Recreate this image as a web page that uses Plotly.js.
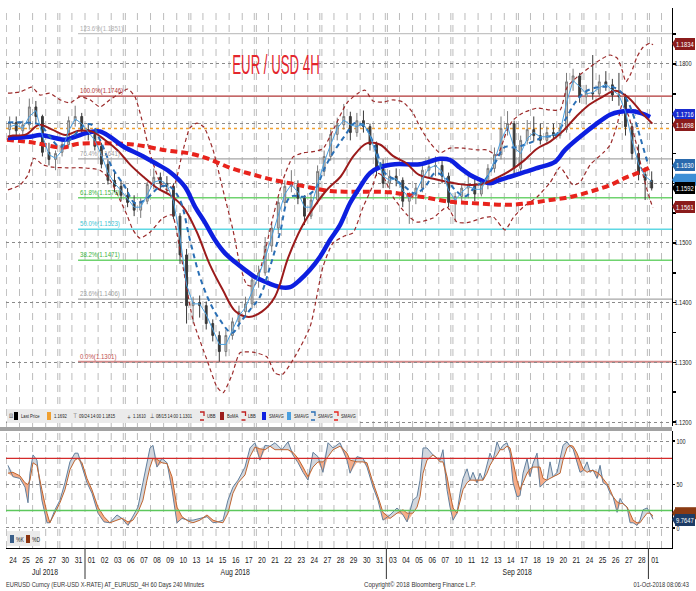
<!DOCTYPE html>
<html><head><meta charset="utf-8">
<script src="https://cdn.plot.ly/plotly-3.0.1.min.js"></script>
<style>html,body{margin:0;padding:0;background:#fff}#chart{width:696px;height:591px}</style>
</head><body><div id="chart"></div>
<script>
const W=696,H=591;
const FONT="'Liberation Sans',Arial,sans-serif";

// ---- calendar / tick labels (day index 0 = 24 Jul 2018) ----
const dayLabels=['24','25','26','27','30','31','01','02','03','06','07','08','09','10','13','14','15','16','17','20','21','22','23','24','27','28','29','30','31','03','04','05','06','07','10','11','12','13','14','17','18','19','20','21','24','25','26','27','28','01'];
const fridayIdx=[3,8,13,18,23,28,33,38,43,48];
const monthNames=['Jul 2018','Aug 2018','Sep 2018'];
const monthLabelPos=[2.45,17,38.5];
const monthBreaks=[5.5,28.5,48.5];
// price axis ticks (1.1700 and 1.1600 sit under the value tags)
const priceTicks=[1.12,1.13,1.14,1.15,1.16,1.17,1.18];
const priceTickText=['1.1200','1.1300','1.1400','1.1500','','','1.1800'];

// ---- 12h price bars (two per trading day) ----
const barOpen=[1.1690,1.1702,1.1688,1.1698,1.1728,1.1712,1.1652,1.1640,1.1652,1.1665,1.1705,1.1712,1.1690,1.1682,1.1662,1.1632,1.1605,1.1595,1.1580,1.1568,
1.1555,1.1570,1.1598,1.1610,1.1600,1.1595,1.1545,1.1480,1.1395,1.1400,1.1395,1.1365,1.1345,1.1318,1.1345,1.1368,1.1385,1.1398,1.1438,1.1450,
1.1495,1.1525,1.1568,1.1595,1.1598,1.1575,1.1545,1.1572,1.1620,1.1645,1.1682,1.1698,1.1712,1.1685,1.1705,1.1695,1.1665,1.1625,1.1600,1.1612,
1.1605,1.1570,1.1580,1.1592,1.1622,1.1628,1.1630,1.1612,1.1568,1.1578,1.1592,1.1598,1.1582,1.1598,1.1625,1.1648,1.1692,1.1700,1.1625,1.1672,
1.1690,1.1680,1.1672,1.1685,1.1680,1.1690,1.1770,1.1780,1.1745,1.1752,1.1750,1.1770,1.1765,1.1748,1.1745,1.1695,1.1650,1.1615,1.1605];
const barHigh=[1.1712,1.1712,1.1705,1.1742,1.1738,1.1715,1.1668,1.1655,1.1672,1.1712,1.1730,1.1718,1.1700,1.1690,1.1668,1.1640,1.1618,1.1605,1.1592,1.1580,
1.1575,1.1602,1.1625,1.1618,1.1612,1.1600,1.1550,1.1490,1.1410,1.1412,1.1402,1.1372,1.1352,1.1355,1.1375,1.1395,1.1410,1.1445,1.1462,1.1510,
1.1535,1.1575,1.1605,1.1622,1.1605,1.1580,1.1582,1.1630,1.1655,1.1690,1.1710,1.1733,1.1720,1.1718,1.1722,1.1700,1.1670,1.1640,1.1622,1.1625,
1.1610,1.1585,1.1600,1.1630,1.1645,1.1645,1.1640,1.1618,1.1585,1.1600,1.1612,1.1610,1.1605,1.1632,1.1660,1.1712,1.1721,1.1705,1.1680,1.1706,
1.1712,1.1700,1.1695,1.1700,1.1700,1.1785,1.1792,1.1785,1.1765,1.1815,1.1782,1.1788,1.1775,1.1785,1.1750,1.1700,1.1665,1.1627,1.1620];
const barLow=[1.1680,1.1678,1.1676,1.1690,1.1700,1.1645,1.1630,1.1622,1.1645,1.1660,1.1695,1.1680,1.1672,1.1655,1.1625,1.1598,1.1585,1.1570,1.1560,1.1545,
1.1542,1.1565,1.1590,1.1588,1.1585,1.1540,1.1465,1.1365,1.1365,1.1375,1.1355,1.1335,1.1301,1.1310,1.1338,1.1355,1.1378,1.1390,1.1425,1.1445,
1.1485,1.1515,1.1560,1.1585,1.1565,1.1530,1.1540,1.1565,1.1612,1.1638,1.1672,1.1690,1.1672,1.1678,1.1685,1.1655,1.1612,1.1592,1.1590,1.1595,
1.1560,1.1532,1.1565,1.1585,1.1610,1.1612,1.1600,1.1560,1.1535,1.1570,1.1575,1.1570,1.1578,1.1590,1.1618,1.1640,1.1680,1.1615,1.1618,1.1665,
1.1670,1.1665,1.1665,1.1675,1.1675,1.1685,1.1755,1.1735,1.1732,1.1740,1.1745,1.1755,1.1738,1.1730,1.1680,1.1640,1.1605,1.1572,1.1588];
const barClose=[1.1702,1.1688,1.1698,1.1728,1.1712,1.1652,1.1640,1.1650,1.1665,1.1705,1.1712,1.1690,1.1682,1.1662,1.1632,1.1605,1.1595,1.1580,1.1568,1.1555,
1.1570,1.1598,1.1610,1.1600,1.1595,1.1545,1.1480,1.1395,1.1400,1.1395,1.1365,1.1345,1.1318,1.1345,1.1368,1.1385,1.1398,1.1438,1.1450,1.1495,
1.1525,1.1568,1.1595,1.1598,1.1575,1.1545,1.1572,1.1620,1.1645,1.1682,1.1698,1.1712,1.1685,1.1705,1.1695,1.1665,1.1625,1.1600,1.1612,1.1605,
1.1570,1.1580,1.1592,1.1622,1.1628,1.1630,1.1612,1.1568,1.1578,1.1592,1.1598,1.1582,1.1598,1.1625,1.1648,1.1692,1.1700,1.1625,1.1672,1.1690,
1.1680,1.1672,1.1685,1.1680,1.1690,1.1770,1.1780,1.1745,1.1752,1.1750,1.1770,1.1765,1.1748,1.1745,1.1695,1.1650,1.1615,1.1605,1.1592];
// thin light-blue SMAVG (one value per bar)
const smaFast=[1.1695,1.1698,1.1692,1.1712,1.1722,1.1680,1.1648,1.1642,1.1655,1.1688,1.1708,1.1700,1.1686,1.1672,1.1648,1.1618,1.1600,1.1588,1.1574,1.1560,
1.1560,1.1582,1.1602,1.1605,1.1598,1.1570,1.1510,1.1430,1.1398,1.1398,1.1380,1.1355,1.1330,1.1330,1.1355,1.1378,1.1392,1.1418,1.1445,1.1475,
1.1510,1.1548,1.1582,1.1598,1.1585,1.1560,1.1560,1.1598,1.1635,1.1665,1.1692,1.1706,1.1698,1.1695,1.1700,1.1680,1.1645,1.1612,1.1605,1.1608,
1.1588,1.1575,1.1585,1.1608,1.1625,1.1630,1.1620,1.1588,1.1572,1.1585,1.1595,1.1590,1.1590,1.1612,1.1638,1.1672,1.1695,1.1660,1.1650,1.1675,
1.1685,1.1678,1.1678,1.1682,1.1685,1.1735,1.1772,1.1762,1.1750,1.1752,1.1760,1.1766,1.1756,1.1748,1.1720,1.1672,1.1632,1.1612,1.1603];

// ---- indicator lines (time in day index) ----
const smaMidT=[-0.38,0.92,2.06,2.82,3.59,4.35,5.50,6.03,6.64,7.56,8.55,9.31,10.08,11.22,11.98,12.75,13.51,14.27,15.04,15.80,16.72,17.33,18.09,18.85,19.62,20.38,21.15,22.29,23.05,23.82,24.58,25.34,26.11,26.87,27.63,28.40,29.16,29.92,30.69,31.45,32.21,32.98,33.74,34.50,35.27,36.03,36.79,37.56,38.32,39.47,40.61,41.37,42.14,42.90,43.66,44.43,45.19,45.95,46.72,47.48,47.86,48.47];
const smaMidV=[1.1702,1.1702,1.1698,1.1678,1.1661,1.1673,1.1698,1.1698,1.1673,1.1627,1.1594,1.1567,1.1572,1.1594,1.1594,1.1572,1.1505,1.1443,1.1400,1.1371,1.1349,1.1366,1.1388,1.1410,1.1460,1.1517,1.1577,1.1578,1.1590,1.1627,1.1656,1.1680,1.1701,1.1694,1.1661,1.1617,1.1606,1.1594,1.1583,1.1594,1.1617,1.1610,1.1589,1.1578,1.1594,1.1606,1.1634,1.1661,1.1660,1.1668,1.1678,1.1680,1.1706,1.1735,1.1753,1.1760,1.1762,1.1760,1.1745,1.1706,1.1678,1.1632];
const bomaT=[-0.4,0,1,2,3,4,5,6,7,8,9,10,11,12,13,14,15,16,17,18,19,20,21,22,23,24,25,26,27,28,29,30,31,32,33,34,35,36,37,38,39,40,41,42,43,44,45,46,47,48,48.8];
const bomaV=[1.1678,1.1680,1.1682,1.1698,1.1690,1.1681,1.1688,1.1687,1.1673,1.1655,1.1630,1.1610,1.1592,1.1580,1.1560,1.1520,1.1465,1.1422,1.1385,1.1376,1.1385,1.1410,1.1475,1.1525,1.1561,1.1590,1.1611,1.1646,1.1667,1.1665,1.1646,1.1634,1.1614,1.1608,1.1603,1.1599,1.1597,1.1600,1.1610,1.1622,1.1638,1.1658,1.1670,1.1688,1.1712,1.1732,1.1745,1.1755,1.1743,1.1718,1.1700];
const smaSlowT=[-0.38,1.3,2.06,3.2,3.97,4.73,5.88,6.64,7.4,8.55,9.69,10.84,11.98,13.13,13.89,14.66,15.42,16.18,16.95,17.71,18.47,19.24,20.38,21.15,21.9,22.67,23.44,24.2,24.96,25.73,26.49,27.25,28.02,29.16,31.07,32.6,33.36,34.12,34.89,35.65,36.41,37.18,37.94,39.08,40.23,41.37,42.14,43.28,44.43,45.57,46.34,47.1,47.86,48.63];
const smaSlowV=[1.1676,1.1678,1.1681,1.1676,1.1673,1.1678,1.1686,1.1687,1.1678,1.1660,1.1648,1.1634,1.1619,1.1594,1.1561,1.1534,1.1505,1.1483,1.1468,1.1455,1.1443,1.1435,1.1426,1.1426,1.1438,1.1455,1.1477,1.1505,1.1530,1.1567,1.1594,1.1617,1.1627,1.1632,1.1632,1.1641,1.1639,1.1626,1.1614,1.1606,1.1600,1.1606,1.1611,1.1619,1.1627,1.1636,1.1656,1.1678,1.1698,1.1715,1.1720,1.1721,1.1718,1.1711];
const sma200T=[-0.46,1.6,3.82,4.89,6.64,9.16,11.76,13.51,15.04,16.56,18.09,19.62,21.15,22.67,24.20,25.34,27.25,28.78,30.31,31.83,33.36,34.89,36.41,37.94,39.47,40.99,42.52,44.05,45.57,46.72,47.86,48.63];
const sma200V=[1.1673,1.1668,1.1660,1.1666,1.1667,1.1665,1.1655,1.1650,1.1640,1.1626,1.1616,1.1607,1.1600,1.1593,1.1587,1.1586,1.1586,1.1585,1.1580,1.1575,1.1569,1.1567,1.1565,1.1564,1.1567,1.1572,1.1577,1.1586,1.1597,1.1609,1.1619,1.1627];
const ubbT=[-0.38,0.53,1.45,2.06,2.82,3.59,4.35,5.11,5.88,6.64,7.40,8.17,8.78,9.31,9.85,10.46,11.22,11.83,12.37,12.90,13.51,14.05,14.58,15.27,16.03,16.79,17.33,17.86,18.40,19.08,19.85,20.61,21.37,22.14,22.90,23.66,24.43,25.50,26.34,26.87,27.48,28.24,29.01,29.77,30.53,31.07,31.83,32.60,33.36,34.35,35.42,36.18,36.95,37.71,38.17,38.93,40.00,40.99,41.76,42.29,43.05,44.05,44.81,45.57,46.11,46.49,46.79,47.18,47.63,48.09,48.63,48.85];
const ubbV=[1.1751,1.1753,1.1761,1.1748,1.1751,1.1740,1.1735,1.1745,1.1740,1.1728,1.1740,1.1751,1.1758,1.1745,1.1706,1.1651,1.1602,1.1588,1.1600,1.1648,1.1693,1.1701,1.1694,1.1656,1.1589,1.1522,1.1463,1.1430,1.1428,1.1472,1.1544,1.1606,1.1644,1.1651,1.1653,1.1658,1.1689,1.1735,1.1751,1.1756,1.1738,1.1736,1.1740,1.1736,1.1718,1.1694,1.1668,1.1651,1.1659,1.1659,1.1656,1.1656,1.1647,1.1689,1.1706,1.1718,1.1726,1.1723,1.1723,1.1761,1.1778,1.1795,1.1807,1.1815,1.1810,1.1790,1.1770,1.1785,1.1812,1.1828,1.1835,1.1832];
const lbbT=[-0.38,0.53,1.15,1.60,2.29,3.05,4.12,5.34,6.64,7.40,8.17,8.70,9.16,9.69,10.46,11.45,12.14,12.75,13.74,14.81,15.57,16.03,16.72,17.33,18.32,19.39,20.00,20.53,21.37,22.67,23.66,24.43,25.34,25.95,26.72,27.48,27.79,28.24,29.01,30.08,30.84,32.06,33.13,33.89,34.66,35.88,36.64,37.56,38.17,38.93,40.00,40.99,41.76,42.21,42.75,43.28,44.05,45.04,45.57,46.11,46.49,46.95,47.63,48.09,48.63,48.85];
const lbbV=[1.1589,1.1597,1.1614,1.1642,1.1631,1.1627,1.1626,1.1626,1.1622,1.1606,1.1572,1.1547,1.1522,1.1508,1.1518,1.1542,1.1547,1.1488,1.1371,1.1304,1.1259,1.1249,1.1279,1.1316,1.1317,1.1309,1.1282,1.1279,1.1304,1.1359,1.1460,1.1500,1.1512,1.1517,1.1560,1.1597,1.1617,1.1612,1.1577,1.1547,1.1535,1.1542,1.1560,1.1535,1.1534,1.1542,1.1544,1.1522,1.1542,1.1560,1.1577,1.1601,1.1627,1.1614,1.1597,1.1602,1.1631,1.1651,1.1664,1.1698,1.1731,1.1715,1.1661,1.1614,1.1572,1.1559];
const avgLine=1.1692;

// ---- Fibonacci retracement ----
const fibPct=['123.6%','100.0%','76.4%','61.8%','50.0%','38.2%','23.6%','0.0%'];
const fibVal=[1.1851,1.1746,1.1641,1.1576,1.1523,1.1471,1.1406,1.1301];
const fibStart=4.97;

// ---- stochastic %K / %D ----
const stochT=[-0.38,0,0.53,0.92,1.15,1.30,1.53,1.83,2.21,2.60,2.82,3.21,3.59,3.97,4.35,4.73,4.96,5.27,5.65,6.03,6.49,6.95,7.40,7.94,8.32,8.78,9.16,9.54,9.92,10.23,10.46,10.69,10.99,11.37,11.76,12.14,12.52,12.90,13.36,13.74,14.27,14.81,15.27,15.65,16.03,16.41,16.79,17.18,17.71,18.09,18.47,18.85,19.24,19.62,20.00,20.53,20.99,21.37,21.76,22.14,22.52,22.90,23.28,23.66,24.05,24.43,24.96,25.50,25.73,26.26,26.72,27.02,27.48,27.86,28.24,28.78,29.31,29.77,30.08,30.53,30.84,31.07,31.30,31.60,32.06,32.37,32.60,32.82,33.13,33.36,33.59,33.89,34.12,34.35,34.66,34.89,35.11,35.42,35.65,35.88,36.18,36.41,36.64,36.95,37.18,37.40,37.71,37.94,38.17,38.47,38.70,38.93,39.24,39.47,39.69,40.00,40.23,40.46,40.76,40.99,41.22,41.53,41.76,41.98,42.29,42.52,42.75,43.05,43.28,43.51,43.82,44.05,44.27,44.58,44.81,45.04,45.34,45.57,45.80,46.11,46.34,46.56,46.87,47.10,47.33,47.63,47.86,48.09,48.40,48.63,48.85];
const stochK=[72,59,57,47,29,63,84,78,32,6,6,21,32,52,76,86,86,70,52,40,17,7,6,15,11,3,13,24,52,76,92,95,70,80,75,44,6,11,9,9,11,13,6,7,9,32,47,55,70,92,98,78,95,94,98,90,99,84,75,64,55,87,82,64,98,92,98,78,63,82,80,70,47,32,9,15,23,15,7,32,36,55,92,92,84,80,78,90,44,24,9,17,40,57,68,55,64,52,63,55,72,86,78,99,90,95,98,86,52,36,37,63,80,59,74,86,47,51,55,76,59,64,80,95,99,94,91,75,64,66,76,64,67,57,72,52,49,40,36,18,34,28,24,6,6,3,9,21,23,17,10];
const stochD=[63,64,60,52,50,55,75,72,44,17,6,18,29,44,67,78,80,75,57,44,24,13,6,9,11,7,9,18,32,55,70,80,79,75,74,59,24,13,8,6,9,15,9,7,6,17,40,52,61,82,93,91,90,94,90,90,90,87,80,70,59,70,76,76,82,90,94,86,78,76,76,75,52,36,18,11,17,21,17,17,24,36,63,78,84,80,76,76,59,40,23,17,32,44,52,55,55,55,55,55,63,72,78,84,90,90,94,92,76,55,44,52,63,68,70,70,70,57,55,57,59,61,63,78,92,95,94,86,78,68,64,66,66,64,61,57,51,44,36,30,28,28,24,17,9,6,6,11,17,17,14];

// ---- right-edge value tags (value, colour, shown text; '' = covered tag) ----
const priceTags=[[1.1834,'#8b1c1c','1.1834'],[1.1716,'#1a2ccf','1.1716'],[1.1698,'#8b1c1c','1.1698'],[1.1630,'#2a6aad','1.1630'],[1.1606,'#3d8fd6',''],[1.1592,'#000000','1.1592'],[1.1561,'#8b1c1c','1.1561']];
const stochTags=[[17,'#8a3a12',''],[9.7647,'#1d3c66','9.7647']];

// ================= build =================
const px=x=>x/W, py=y=>1-y/H;
const xMin=-0.53,xMax=50.3;
const shapes=[],ann=[];
const tagTexts=new Set();
function txt(x,y,t,o={}){ann.push(Object.assign({xref:'paper',yref:'paper',x:px(x),y:py(y),text:t,showarrow:false,xanchor:'left',align:'left',yanchor:'middle',borderpad:0,font:{family:FONT,size:5.5,color:'#222'}},o));}
function rect(x0,y0,x1,y1,fill,layer){shapes.push({type:'rect',xref:'paper',yref:'paper',x0:px(x0),x1:px(x1),y0:py(y1),y1:py(y0),fillcolor:fill,line:{width:0},layer:layer||'above'});}

for(let i=-1;i<dayLabels.length;i++){
  const b=i+0.5;
  const offs=fridayIdx.includes(i)?[-0.08,0.08]:[0];
  offs.forEach(o=>shapes.push({type:'line',xref:'x',yref:'paper',x0:b+o,x1:b+o,y0:py(548),y1:py(10),line:{color:'#bcbcbc',width:1,dash:'7px,5px'},layer:'below'}));
}
shapes.push({type:'line',xref:'x',yref:'y',x0:xMin,x1:xMax,y0:avgLine,y1:avgLine,line:{color:'#f0a030',width:1.5,dash:'dot'},layer:'below'});
const fibColor=['#c4c4c4','#b03535','#a6a6a6','#6fd36f','#5fd8e4','#6fd36f','#a6a6a6','#d38a8a'];
const fibText=['#b0b0b0','#b03535','#a0a0a0','#3cb53c','#3cc4d4','#3cb53c','#a0a0a0','#c05050'];
const fibW=[1.2,1.2,1.2,1.5,1.5,1.5,1.2,2.2];
fibVal.forEach((v,k)=>{
  shapes.push({type:'line',xref:'x',yref:'y',x0:fibStart,x1:xMax,y0:v,y1:v,line:{color:fibColor[k],width:fibW[k]},layer:'below'});
  ann.push({xref:'x',yref:'y',x:fibStart+0.05,y:v,text:fibPct[k]+'('+v.toFixed(4)+')',showarrow:false,xanchor:'left',align:'left',yanchor:'bottom',borderpad:0,font:{family:FONT,size:8,color:fibText[k]}});
});
// price tick labels, right-aligned near the window edge
priceTicks.forEach((v,k)=>{ if(priceTickText[k]) ann.push({xref:'paper',yref:'y',x:px(692),y:v,text:priceTickText[k],showarrow:false,xanchor:'right',align:'right',yanchor:'middle',borderpad:0,borderwidth:0,font:{family:FONT,size:7.4,color:'#222'}}); });
shapes.push({type:'line',xref:'x2',yref:'y2',x0:xMin,x1:xMax,y0:80,y1:80,line:{color:'#d42a2a',width:1.2},layer:'above'});
shapes.push({type:'line',xref:'x2',yref:'y2',x0:xMin,x1:xMax,y0:20,y1:20,line:{color:'#5cc85c',width:1.5},layer:'above'});
rect(0,427,672,431,'#a2a2a2');
monthBreaks.forEach(b=>shapes.push({type:'line',xref:'x2',yref:'paper',x0:b,x1:b,y0:py(579),y1:py(548),line:{color:'#333',width:1}}));
monthNames.forEach((m,k)=>ann.push({xref:'x2',yref:'paper',x:monthLabelPos[k],y:py(572),text:m,showarrow:false,xanchor:'center',yanchor:'middle',font:{family:FONT,size:9,color:'#222'}}));

function tag(yref,val,h,color,text,hpx){
  shapes.push({type:'path',xref:'paper',yref:yref,path:`M ${px(672)},${val} L ${px(676)},${val+h} L ${px(676)},${val-h} Z`,fillcolor:color,line:{width:0},layer:'above'});
  if(text){
    tagTexts.add(text);
    ann.push({xref:'paper',yref:yref,x:px(675),y:val,xanchor:'left',yanchor:'middle',width:20,height:hpx,bgcolor:color,borderpad:0,borderwidth:0,text:text,showarrow:false,align:'center',font:{family:FONT,size:6.6,color:'#fff'}});
  } else {
    shapes.push({type:'rect',xref:'paper',yref:yref,x0:px(675),x1:1,y0:val-h,y1:val+h,fillcolor:color,line:{width:0},layer:'above'});
  }
}
priceTags.forEach(([v,c,t])=>tag('y',v,0.001,c,t,t==='1.1716'?10:12));
stochTags.forEach(([v,c,t])=>tag('y2',v,6.9,c,t,12));

// legend row
rect(7,409,358,423,'#ebebeb');
const LY=416;
txt(8,LY,'⊟',{font:{family:'DejaVu Sans',size:6.5,color:'#444'}});
rect(14,412,18,420,'#000');      txt(19.5,LY,'Last Price');
rect(47,412,51,420,'#f0a030');   txt(52.5,LY,'1.1692');
txt(72,LY,'⊤',{font:{family:'DejaVu Sans',size:6.5,color:'#333'}}); txt(78,LY,'09/24 14:00 1.1815');
txt(126,LY,'+',{font:{family:'DejaVu Sans',size:6,color:'#333'}}); txt(131.5,LY,'1.1610');
txt(149,LY,'⊥',{font:{family:'DejaVu Sans',size:6.5,color:'#333'}}); txt(154.5,LY,'08/15 14:00 1.1301');
function bracket(x,col){shapes.push({type:'path',xref:'paper',yref:'paper',path:`M ${px(x)},${py(412)} L ${px(x+4)},${py(412)} L ${px(x+4)},${py(416)} M ${px(x)},${py(420)} L ${px(x+4)},${py(420)}`,line:{color:col,width:1.3},layer:'above'});}
bracket(200,'#c02020'); txt(206,LY,'UBB');
rect(220,412,224,420,'#9b1b1b'); txt(225.5,LY,'BoMA');
bracket(241.5,'#c02020'); txt(247.5,LY,'LBB');
rect(262,412,266,420,'#1020e0'); txt(267.5,LY,'SMAVG');
rect(287,412,291,420,'#4aa0e0'); txt(292.5,LY,'SMAVG');
bracket(311,'#2a6fb5'); txt(317,LY,'SMAVG');
bracket(334,'#e8231c'); txt(340,LY,'SMAVG');
rect(7,531,40,546,'#ebebeb');
rect(10,535,14,543,'#3a5f8a'); txt(15,539,'%K',{font:{family:FONT,size:6.5,color:'#222'}});
rect(26,535,30,543,'#8b3510'); txt(31,539,'%D',{font:{family:FONT,size:6.5,color:'#222'}});
txt(5,584,'EURUSD Curncy (EUR-USD X-RATE) AT_EURUSD_4H 60 Days 240 Minutes',{font:{family:FONT,size:7.5,color:'#333'}});
txt(363,584,'Copyright© 2018 Bloomberg Finance L.P.',{font:{family:FONT,size:8,color:'#333'}});
txt(690,584,'01-Oct-2018 08:06:43',{xanchor:'right',align:'right',font:{family:FONT,size:7.5,color:'#333'}});

// ---- traces ----
const barT=barOpen.map((_,k)=>Math.floor(k/2)-0.25+0.5*(k%2));
const kdMin=stochK.map((k,j)=>Math.min(k,stochD[j]));
const kdMax=stochK.map((k,j)=>Math.max(k,stochD[j]));
const L=(x,y,line,extra)=>Object.assign({type:'scatter',mode:'lines',x:x,y:y,line:line,hoverinfo:'skip',xaxis:'x',yaxis:'y'},extra||{});
const traces=[
 {type:'candlestick',x:barT,open:barOpen,high:barHigh,low:barLow,close:barClose,xaxis:'x',yaxis:'y',
  increasing:{line:{color:'#7a7a7a',width:1},fillcolor:'#cfcfcf'},decreasing:{line:{color:'#3a3a3a',width:1},fillcolor:'#3a3a3a'},whiskerwidth:0,hoverinfo:'skip'},
 L(ubbT,ubbV,{color:'#9b2a2a',width:1.2,dash:'4px,3px',shape:'spline',smoothing:0.6}),
 L(lbbT,lbbV,{color:'#9b2a2a',width:1.2,dash:'4px,3px',shape:'spline',smoothing:0.6}),
 L(sma200T,sma200V,{color:'#e8231c',width:4,dash:'7px,4px',shape:'spline'}),
 L(smaSlowT,smaSlowV,{color:'#0d1fe0',width:4.5,shape:'spline'}),
 L(bomaT,bomaV,{color:'#9b1b1b',width:2,shape:'spline'}),
 L(smaMidT,smaMidV,{color:'#2a6fb5',width:2,dash:'5px,4px',shape:'spline'}),
 L(barT,smaFast,{color:'#4aa0e0',width:1}),
 L(stochT,stochD,{width:0},{xaxis:'x2',yaxis:'y2'}),
 L(stochT,kdMin,{width:0},{xaxis:'x2',yaxis:'y2',fill:'tonexty',fillcolor:'rgba(245,165,125,0.9)'}),
 L(stochT,stochD,{width:0},{xaxis:'x2',yaxis:'y2'}),
 L(stochT,kdMax,{width:0},{xaxis:'x2',yaxis:'y2',fill:'tonexty',fillcolor:'rgba(208,213,220,0.95)'}),
 L(stochT,stochK,{color:'#62809e',width:1},{xaxis:'x2',yaxis:'y2'}),
 L(stochT,stochD,{color:'#bf6530',width:1},{xaxis:'x2',yaxis:'y2'})
];

const tickF={family:FONT,size:7.2,color:'#222'};
const layout={
 width:W,height:H,margin:{l:0,r:0,t:0,b:0},paper_bgcolor:'#fff',plot_bgcolor:'rgba(0,0,0,0)',showlegend:false,boxgap:0.6,
 title:{text:'EUR / USD 4H',font:{family:FONT,size:27,color:'#e3262d'},x:px(276),xref:'container',xanchor:'center',y:py(65),yref:'container',yanchor:'middle'},
 xaxis:{domain:[px(6),px(672)],range:[xMin,xMax],anchor:'y',showticklabels:false,showgrid:false,zeroline:false,rangeslider:{visible:false},fixedrange:true},
 xaxis2:{domain:[px(6),px(672)],range:[xMin,xMax],anchor:'y2',tickvals:dayLabels.map((_,k)=>k),ticktext:dayLabels,ticks:'',tickfont:{family:FONT,size:9,color:'#222'},ticklabelstandoff:3,showgrid:false,zeroline:false,showline:true,linecolor:'#000',linewidth:1,fixedrange:true},
 yaxis:{domain:[py(426),py(8)],range:[1.11933,1.18938],side:'right',anchor:'x',tickvals:priceTicks,showticklabels:false,showgrid:true,gridcolor:'#8a8a8a',griddash:'dot',gridwidth:1,
        showline:true,linecolor:'#000',linewidth:1,ticks:'outside',ticklen:2,tickwidth:1.5,tickcolor:'#000',zeroline:false,fixedrange:true,
        minor:{dtick:0.005,tick0:1.12,ticks:'outside',ticklen:3,tickcolor:'#000',showgrid:false}},
 yaxis2:{domain:[py(548),py(431)],range:[-23,111.5],side:'right',anchor:'x2',tickvals:[0,50,100],showgrid:true,gridcolor:'#8a8a8a',griddash:'dot',
        showline:true,linecolor:'#000',linewidth:1,ticks:'outside',ticklen:2,tickwidth:1.5,tickcolor:'#000',tickfont:tickF,zeroline:false,fixedrange:true},
 shapes:shapes,annotations:ann
};
Plotly.newPlot('chart',traces,layout,{displayModeBar:false,staticPlot:true}).then(()=>{
  // condense glyphs horizontally (the reference uses a narrow face)
  document.querySelectorAll('#chart svg text').forEach(t=>{
    const s=t.textContent.trim();
    if(!s) return;
    const len=t.getComputedTextLength();
    if(!(len>0)) return;
    const f=t.classList.contains('gtitle')?0.49:(tagTexts.has(s)?0.88:0.76);
    t.setAttribute('textLength',(len*f).toFixed(2));
    t.setAttribute('lengthAdjust','spacingAndGlyphs');
  });
});
</script>
</body></html>
